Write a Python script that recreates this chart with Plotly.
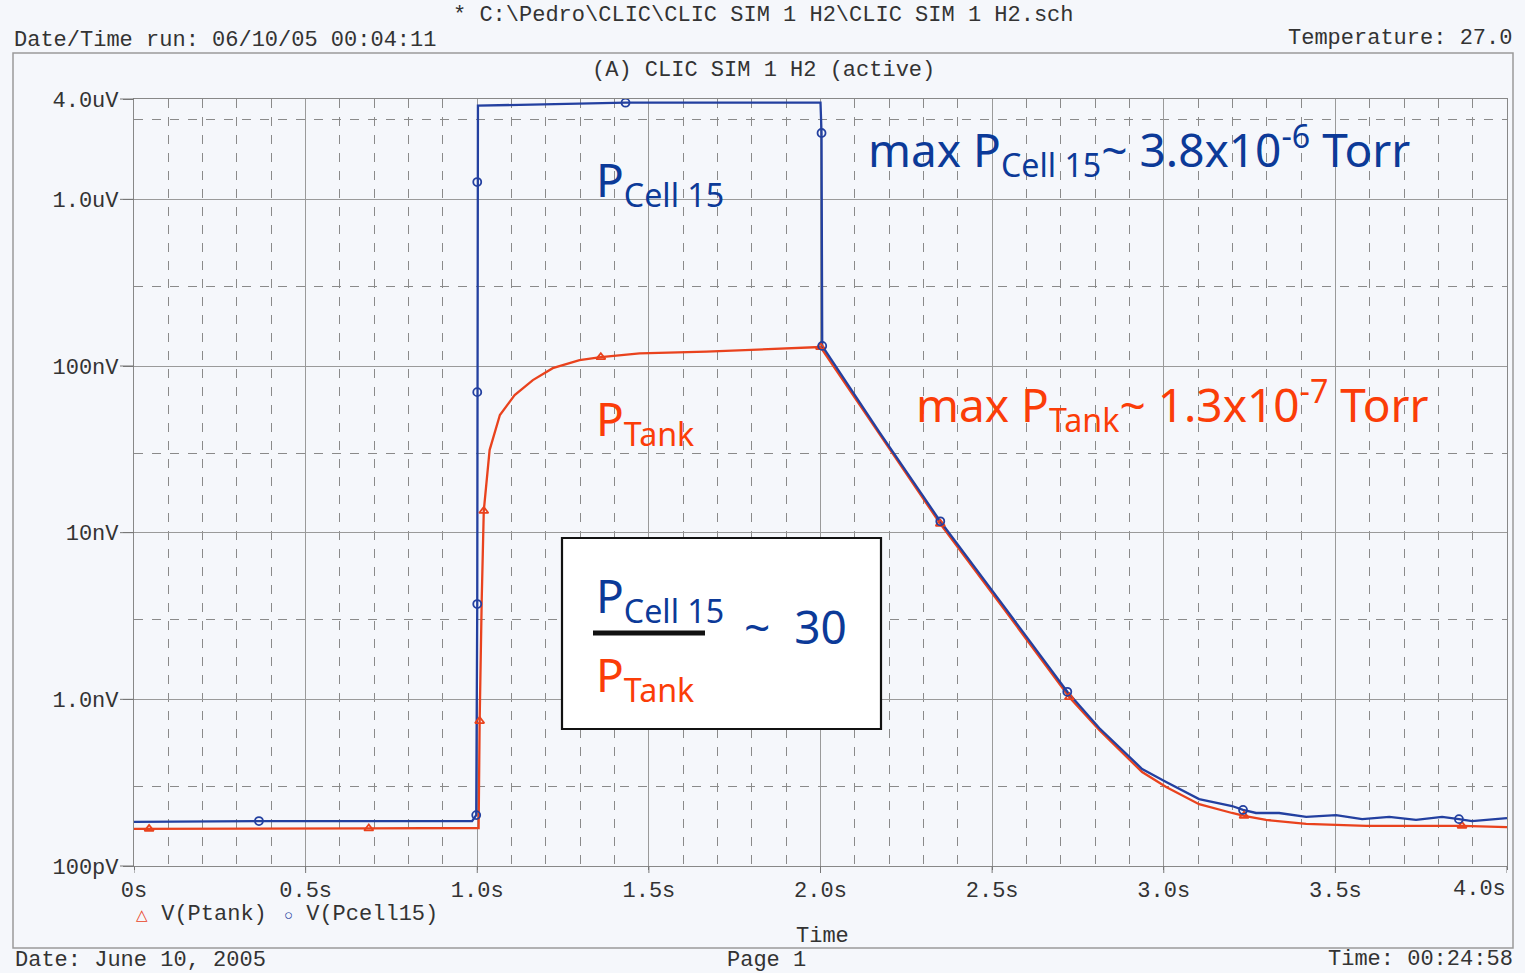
import math
import plotly.graph_objects as go

# ---- simulation traces (time in s, value in V) ----
cell_t = [0.0, 0.364, 0.985, 0.997, 1.000, 1.000, 1.000, 1.002, 1.432, 2.000, 2.003, 2.005,
          2.172, 2.349, 2.521, 2.719, 2.812, 2.937, 3.007, 3.103, 3.199, 3.231, 3.269, 3.336,
          3.415, 3.502, 3.578, 3.657, 3.735, 3.811, 3.860, 3.898, 4.0]
cell_v = [1.84e-10, 1.86e-10, 1.86e-10, 2.02e-10, 3.73e-9, 6.97e-8, 1.27e-6, 3.65e-6, 3.8e-6,
          3.8e-6, 2.5e-6, 1.32e-7, 4.0e-8, 1.17e-8, 3.94e-9, 1.11e-9, 6.73e-10, 3.82e-10,
          3.19e-10, 2.52e-10, 2.29e-10, 2.17e-10, 2.08e-10, 2.08e-10, 1.97e-10, 2.02e-10,
          1.91e-10, 1.97e-10, 1.89e-10, 1.97e-10, 1.91e-10, 1.86e-10, 1.94e-10]
cell_marks = [1, 3, 4, 5, 6, 8, 10, 11, 13, 15, 21, 30]

tank_t = [0.0, 0.044, 0.684, 1.004, 1.007, 1.013, 1.019, 1.036, 1.066, 1.109, 1.162, 1.220,
          1.298, 1.360, 1.473, 1.668, 1.850, 2.000, 2.172, 2.349, 2.521, 2.725, 2.812, 2.937,
          3.007, 3.103, 3.199, 3.234, 3.298, 3.415, 3.590, 3.869, 4.0]
tank_v = [1.67e-10, 1.67e-10, 1.68e-10, 1.69e-10, 7.41e-10, 3.94e-9, 1.35e-8, 3.13e-8, 5.08e-8,
          6.69e-8, 8.23e-8, 9.71e-8, 1.085e-7, 1.13e-7, 1.19e-7, 1.22e-7, 1.26e-7, 1.3e-7,
          3.9e-8, 1.13e-8, 3.8e-9, 1.03e-9, 6.55e-10, 3.66e-10, 2.98e-10, 2.35e-10, 2.08e-10,
          2.0e-10, 1.89e-10, 1.79e-10, 1.74e-10, 1.74e-10, 1.71e-10]
tank_marks = [1, 2, 4, 6, 13, 17, 19, 21, 27, 31]

x_ticks = [0.0, 0.5, 1.0, 1.5, 2.0, 2.5, 3.0, 3.5, 4.0]
x_labels = ["0s", "0.5s", "1.0s", "1.5s", "2.0s", "2.5s", "3.0s", "3.5s", "4.0s"]
y_ticks = [1e-10, 1e-9, 1e-8, 1e-7, 1e-6, 4e-6]
y_labels = ["100pV", "1.0nV", "10nV", "100nV", "1.0uV", "4.0uV"]
y_minor = [3e-10, 3e-9, 3e-8, 3e-7, 3e-6]

BLUE = "#2340a0"
ORANGE = "#e9421d"
TXT_BLUE = "#0c3a98"
TXT_RED = "#fb3d08"
MONO = "Liberation Mono"
SANS = "Noto Sans"
BG = "#f5f7fb"

W, H = 1525, 973
L, R, T, B = 134, 18, 99, 107
PW, PH = W - L - R, H - T - B
Y_LO, Y_HI = -10.0, math.log10(4e-6)


def px(x, y):
    """pixel position -> paper coordinates"""
    return (x - L) / PW, (H - B - y) / PH


def ypaper(v):
    return (math.log10(v) - Y_LO) / (Y_HI - Y_LO)


fig = go.Figure()

fig.add_trace(go.Scatter(x=tank_t, y=tank_v, mode="lines", line=dict(color=ORANGE, width=2.3),
                         showlegend=False, hoverinfo="skip"))
fig.add_trace(go.Scatter(x=cell_t, y=cell_v, mode="lines", line=dict(color=BLUE, width=2.3),
                         showlegend=False, hoverinfo="skip"))
fig.add_trace(go.Scatter(x=[tank_t[i] for i in tank_marks], y=[tank_v[i] for i in tank_marks],
                         mode="markers", name="V(Ptank)",
                         marker=dict(symbol="triangle-up-open", size=8, color=ORANGE,
                                     line=dict(width=1.8, color=ORANGE)),
                         showlegend=False))
fig.add_trace(go.Scatter(x=[cell_t[i] for i in cell_marks], y=[cell_v[i] for i in cell_marks],
                         mode="markers", name="V(Pcell15)",
                         marker=dict(symbol="circle-open", size=8, color=BLUE,
                                     line=dict(width=1.8, color=BLUE)),
                         showlegend=False))

fig.update_xaxes(range=[0, 4.0], tickvals=x_ticks, ticktext=x_labels[:-1] + [""],
                 ticks="outside", ticklen=3, tickcolor="#777", tickwidth=1,
                 showgrid=True, gridcolor="#9a9a9a", gridwidth=1,
                 showline=True, linecolor="#888", linewidth=1.2, mirror=True,
                 zeroline=False,
                 tickfont=dict(family=MONO, size=22, color="#333"),
                 minor=dict(dtick=0.1, tick0=0, showgrid=True, gridcolor="#8a8a8a",
                            griddash="dash", gridwidth=1, ticks=""))
fig.update_yaxes(type="log", range=[Y_LO, Y_HI], tickvals=y_ticks, ticktext=y_labels,
                 ticks="outside", ticklen=10, tickcolor="#777", tickwidth=1,
                 showgrid=True, gridcolor="#9a9a9a", gridwidth=1,
                 showline=True, linecolor="#888", linewidth=1.2, mirror=True,
                 zeroline=False,
                 tickfont=dict(family=MONO, size=22, color="#333"),
                 minor=dict(tickmode="array", tickvals=y_minor, showgrid=True,
                            gridcolor="#8a8a8a", griddash="dash", gridwidth=1, ticks=""))

shapes = []
# full-length tick marks
for xv in x_ticks:
    shapes.append(dict(type="line", xref="x", yref="paper", x0=xv, x1=xv, y0=0, y1=-7 / PH,
                       line=dict(color="#777", width=1)))
for yv in y_ticks:
    yp = ypaper(yv)
    shapes.append(dict(type="line", xref="paper", yref="paper", x0=0, x1=-14 / PW, y0=yp, y1=yp,
                       line=dict(color="#777", width=1)))
# outer page frame
x0, y0 = px(13, 53)
x1, y1 = px(1513, 948)
shapes.append(dict(type="rect", xref="paper", yref="paper", x0=x0, y0=y0, x1=x1, y1=y1,
                   line=dict(color="#9a9a9a", width=1.5), fillcolor="rgba(0,0,0,0)", layer="below"))
# ratio box
x0, y0 = px(562, 538)
x1, y1 = px(881, 729)
shapes.append(dict(type="rect", xref="paper", yref="paper", x0=x0, y0=y0, x1=x1, y1=y1,
                   line=dict(color="#111", width=2.2), fillcolor="white"))
# fraction bar
x0, y0 = px(593, 633)
x1, _ = px(705, 633)
shapes.append(dict(type="line", xref="paper", yref="paper", x0=x0, y0=y0, x1=x1, y1=y0,
                   line=dict(color="#111", width=5)))

ann = []


def note(text, x, y, size, color, family=MONO, xa="left", ya="middle"):
    ax, ay = px(x, y)
    ann.append(dict(text=text, x=ax, y=ay, xref="paper", yref="paper", showarrow=False,
                    xanchor=xa, yanchor=ya, font=dict(family=family, size=size, color=color)))


# page header / footer
note("* C:\\Pedro\\CLIC\\CLIC SIM 1 H2\\CLIC SIM 1 H2.sch", 763, 15, 22, "#333", xa="center")
note("Date/Time run: 06/10/05 00:04:11", 12, 40, 22, "#333")
note("Temperature: 27.0", 1514, 38, 22, "#333", xa="right")
note("(A) CLIC SIM 1 H2 (active)", 763, 70, 22, "#333", xa="center")
note("4.0s", 1508, 889, 22, "#333", xa="right")
note('<span style="color:%s;font-size:15px">△</span> V(Ptank)' % ORANGE, 134, 914, 22, "#333")
note('<span style="color:%s;font-size:15px">○</span> V(Pcell15)' % BLUE, 282, 914, 22, "#333")
note("Time", 822, 936, 22, "#333", xa="center")
note("Date: June 10, 2005", 13, 960, 22, "#333")
note("Page 1", 766, 960, 22, "#333", xa="center")
note("Time: 00:24:58", 1515, 959, 22, "#333", xa="right")

# physics annotations
note("max P<sub>Cell 15</sub>~ 3.8x10<sup>-6</sup> Torr", 866, 150, 46, TXT_BLUE, SANS)
note("max P<sub>Tank</sub>~ 1.3x10<sup>-7</sup> Torr", 914, 405, 46, TXT_RED, SANS)
note("P<sub>Cell 15</sub>", 594, 182, 46, TXT_BLUE, SANS)
note("P<sub>Tank</sub>", 594, 421, 46, TXT_RED, SANS)
note("P<sub>Cell 15</sub>", 594, 598, 46, TXT_BLUE, SANS)
note("P<sub>Tank</sub>", 594, 677, 46, TXT_RED, SANS)
note("~  30", 742, 626, 46, TXT_BLUE, SANS)

fig.update_layout(width=W, height=H, margin=dict(l=L, r=R, t=T, b=B),
                  paper_bgcolor=BG, plot_bgcolor=BG, showlegend=False,
                  shapes=shapes, annotations=ann)

fig.write_html("out.html")
